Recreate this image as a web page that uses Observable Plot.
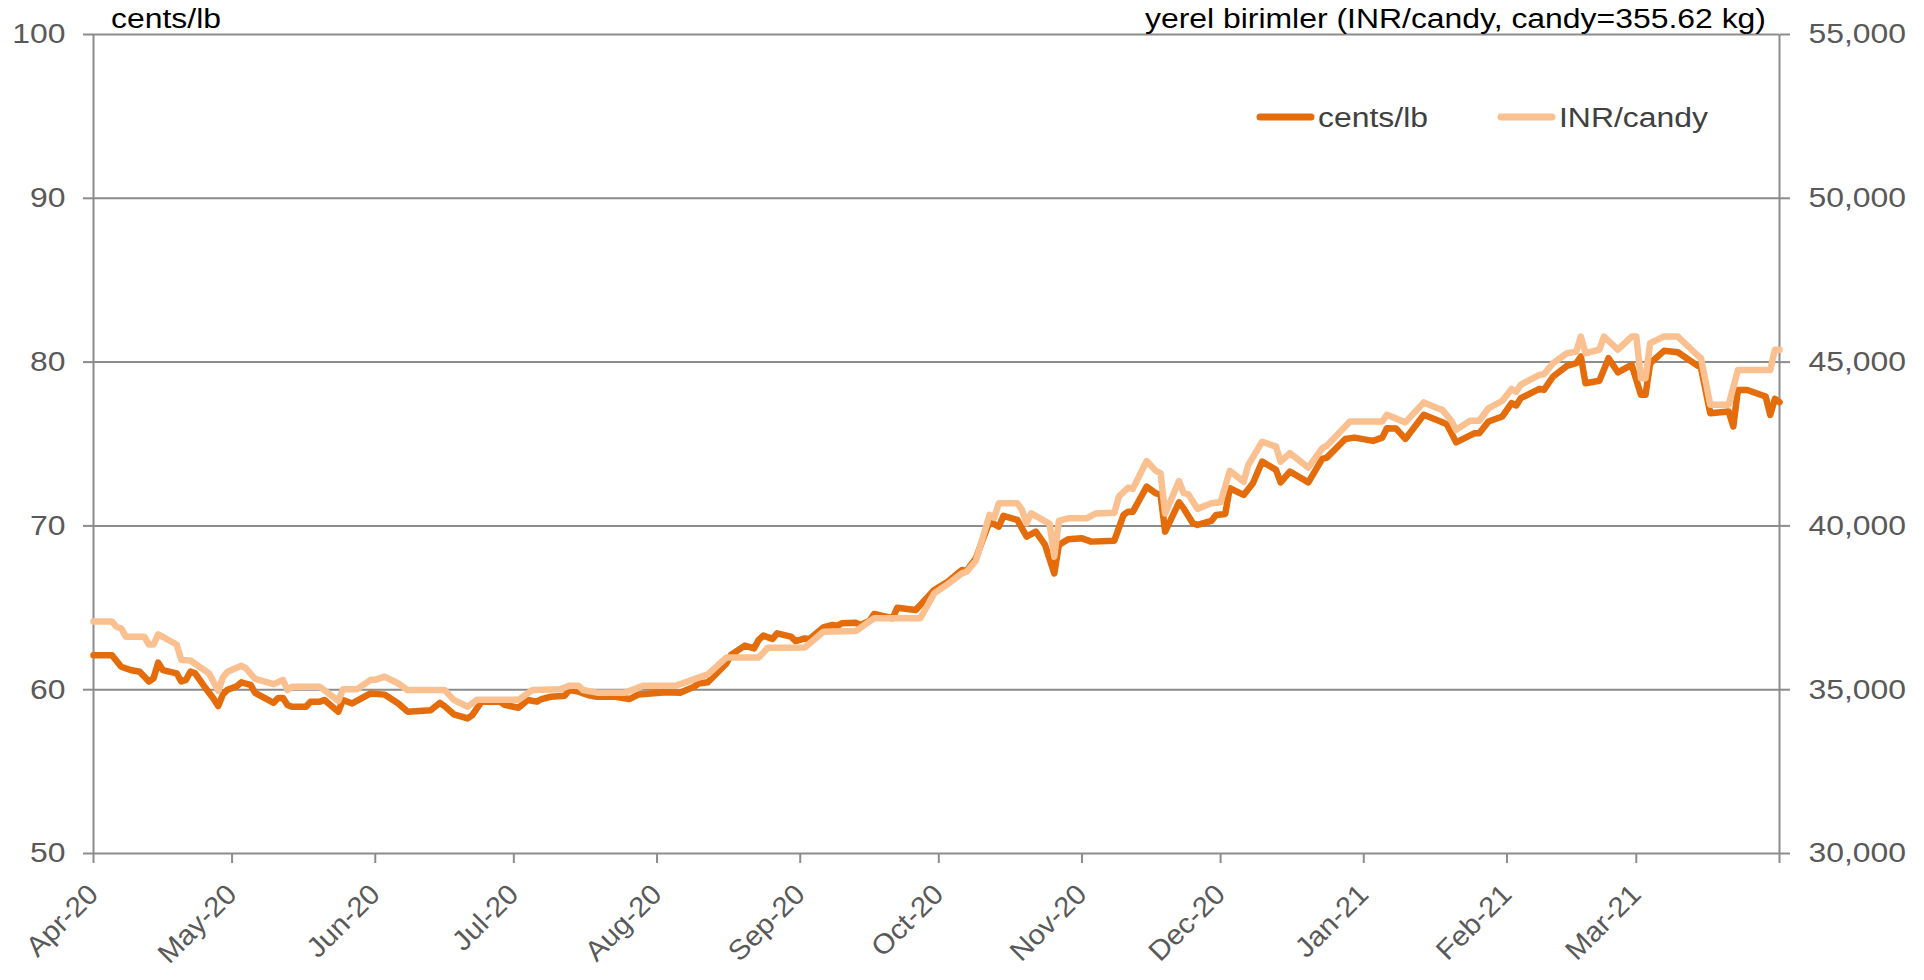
<!DOCTYPE html>
<html><head><meta charset="utf-8">
<script src="https://cdn.jsdelivr.net/npm/d3@7"></script>
<script src="https://cdn.jsdelivr.net/npm/@observablehq/plot@0.6"></script>
<style>
body{margin:0;background:#fff;font-family:"Liberation Sans",Arial,sans-serif;}
#wrap{position:relative;width:1924px;height:980px;overflow:hidden;}
#wrap svg{display:block;}
#overlay{position:absolute;left:0;top:0;}
</style></head><body><div id="wrap"></div>
<script>
// ---- data ----
const centsDates = ["2020-04-01","2020-04-05","2020-04-07","2020-04-09","2020-04-11","2020-04-13","2020-04-14","2020-04-15","2020-04-16","2020-04-19","2020-04-20","2020-04-21","2020-04-22","2020-04-23","2020-04-25","2020-04-27","2020-04-28","2020-04-29","2020-04-30","2020-05-02","2020-05-03","2020-05-05","2020-05-06","2020-05-10","2020-05-11","2020-05-12","2020-05-13","2020-05-14","2020-05-17","2020-05-18","2020-05-20","2020-05-21","2020-05-24","2020-05-25","2020-05-27","2020-05-31","2020-06-03","2020-06-06","2020-06-08","2020-06-13","2020-06-15","2020-06-16","2020-06-18","2020-06-21","2020-06-22","2020-06-24","2020-06-28","2020-06-29","2020-07-02","2020-07-04","2020-07-06","2020-07-07","2020-07-09","2020-07-12","2020-07-13","2020-07-15","2020-07-17","2020-07-19","2020-07-23","2020-07-26","2020-07-28","2020-08-03","2020-08-06","2020-08-09","2020-08-10","2020-08-12","2020-08-16","2020-08-17","2020-08-20","2020-08-22","2020-08-23","2020-08-24","2020-08-26","2020-08-27","2020-08-30","2020-08-31","2020-09-02","2020-09-03","2020-09-06","2020-09-08","2020-09-09","2020-09-10","2020-09-13","2020-09-14","2020-09-16","2020-09-17","2020-09-21","2020-09-22","2020-09-26","2020-09-30","2020-10-03","2020-10-06","2020-10-07","2020-10-09","2020-10-12","2020-10-14","2020-10-15","2020-10-18","2020-10-20","2020-10-22","2020-10-24","2020-10-26","2020-10-27","2020-10-29","2020-11-01","2020-11-03","2020-11-08","2020-11-10","2020-11-11","2020-11-12","2020-11-15","2020-11-17","2020-11-18","2020-11-19","2020-11-22","2020-11-23","2020-11-25","2020-11-26","2020-11-29","2020-11-30","2020-12-02","2020-12-03","2020-12-06","2020-12-08","2020-12-10","2020-12-13","2020-12-14","2020-12-16","2020-12-20","2020-12-23","2020-12-24","2020-12-28","2020-12-30","2021-01-03","2021-01-05","2021-01-06","2021-01-08","2021-01-10","2021-01-14","2021-01-18","2021-01-19","2021-01-21","2021-01-25","2021-01-26","2021-01-28","2021-01-31","2021-02-02","2021-02-03","2021-02-04","2021-02-08","2021-02-09","2021-02-11","2021-02-14","2021-02-16","2021-02-17","2021-02-18","2021-02-21","2021-02-23","2021-02-25","2021-02-28","2021-03-02","2021-03-03","2021-03-04","2021-03-07","2021-03-10","2021-03-14","2021-03-15","2021-03-17","2021-03-21","2021-03-22","2021-03-23","2021-03-25","2021-03-29","2021-03-30","2021-03-31","2021-04-01"];
const centsValues = [62.1,62.1,61.4,61.2,61.1,60.5,60.7,61.65,61.2,61.0,60.5,60.6,61.1,61.0,60.2,59.45,59.0,59.7,60.0,60.2,60.45,60.3,59.8,59.2,59.5,59.5,59.07,58.96,58.96,59.27,59.27,59.37,58.66,59.37,59.16,59.77,59.7,59.16,58.66,58.75,59.2,59.0,58.5,58.25,58.45,59.27,59.27,59.07,58.9,59.37,59.27,59.43,59.57,59.63,59.98,59.88,59.68,59.57,59.57,59.43,59.71,59.84,59.82,60.18,60.38,60.45,61.6,62.12,62.69,62.52,63.04,63.3,63.1,63.44,63.24,62.97,63.13,63.1,63.8,63.95,63.9,64.05,64.09,63.95,64.2,64.62,64.36,65.0,64.87,66.09,66.6,67.31,67.25,68.02,70.26,69.96,70.61,70.37,69.35,69.65,68.84,67.1,68.84,69.18,69.24,69.04,69.1,70.67,70.87,70.86,72.4,71.99,71.89,69.65,71.44,71.07,70.16,70.06,70.3,70.67,70.73,72.3,71.89,72.6,73.93,73.42,72.66,73.32,72.66,74.09,74.17,75.31,75.39,75.19,75.39,75.96,75.94,75.31,76.78,76.33,76.2,75.1,75.66,75.66,76.37,76.68,77.49,77.35,77.8,78.37,78.3,79.12,79.77,79.93,80.34,78.71,78.86,80.24,79.38,79.83,78.0,78.0,79.93,80.69,80.6,79.83,79.67,76.88,76.98,76.07,78.3,78.3,77.9,76.78,77.76,77.55];

const inrDates = ["2020-04-01","2020-04-05","2020-04-06","2020-04-07","2020-04-08","2020-04-12","2020-04-13","2020-04-14","2020-04-15","2020-04-19","2020-04-20","2020-04-22","2020-04-26","2020-04-28","2020-04-29","2020-04-30","2020-05-03","2020-05-04","2020-05-06","2020-05-10","2020-05-12","2020-05-13","2020-05-14","2020-05-20","2020-05-24","2020-05-25","2020-05-28","2020-05-31","2020-06-01","2020-06-03","2020-06-06","2020-06-08","2020-06-16","2020-06-18","2020-06-21","2020-06-23","2020-07-02","2020-07-05","2020-07-11","2020-07-13","2020-07-15","2020-07-16","2020-07-19","2020-07-25","2020-07-29","2020-08-05","2020-08-10","2020-08-12","2020-08-16","2020-08-23","2020-08-25","2020-08-28","2020-09-02","2020-09-06","2020-09-13","2020-09-17","2020-09-27","2020-09-30","2020-10-03","2020-10-06","2020-10-07","2020-10-09","2020-10-12","2020-10-13","2020-10-14","2020-10-18","2020-10-19","2020-10-20","2020-10-21","2020-10-25","2020-10-26","2020-10-27","2020-10-29","2020-11-02","2020-11-04","2020-11-08","2020-11-09","2020-11-11","2020-11-12","2020-11-15","2020-11-17","2020-11-18","2020-11-19","2020-11-22","2020-11-23","2020-11-24","2020-11-26","2020-11-29","2020-12-01","2020-12-03","2020-12-06","2020-12-07","2020-12-10","2020-12-13","2020-12-14","2020-12-16","2020-12-20","2020-12-23","2020-12-24","2020-12-29","2021-01-05","2021-01-06","2021-01-10","2021-01-14","2021-01-17","2021-01-18","2021-01-20","2021-01-21","2021-01-24","2021-01-26","2021-01-28","2021-01-31","2021-02-02","2021-02-03","2021-02-04","2021-02-08","2021-02-09","2021-02-11","2021-02-14","2021-02-16","2021-02-17","2021-02-18","2021-02-21","2021-02-22","2021-02-25","2021-02-28","2021-03-01","2021-03-02","2021-03-03","2021-03-04","2021-03-07","2021-03-10","2021-03-14","2021-03-15","2021-03-17","2021-03-21","2021-03-23","2021-03-30","2021-03-31","2021-04-01"];
const inrValues = [37080,37080,36920,36870,36620,36620,36380,36380,36690,36380,35910,35890,35500,34970,35370,35550,35730,35650,35330,35170,35300,34990,35090,35090,34660,35010,35010,35300,35300,35400,35190,34990,34990,34690,34480,34690,34690,34990,35010,35120,35120,34990,34910,34910,35120,35120,35370,35470,35980,35980,36280,36280,36290,36770,36790,37180,37180,37940,38230,38550,38600,38930,40340,40250,40690,40690,40490,40080,40380,40060,39060,40150,40230,40230,40380,40400,40900,41170,41130,41980,41680,41610,40380,41370,41000,40970,40520,40690,40720,41680,41350,41860,42570,42420,41960,42220,41780,42370,42450,43190,43190,43390,43160,43770,43590,43540,43200,42930,43210,43210,43590,43820,44180,44100,44310,44610,44630,44970,45270,45320,45780,45270,45380,45780,45380,45780,45780,44510,44510,45580,45780,45780,45240,45120,43700,43700,44760,44760,45380,45380];

const leftTicks = [50, 60, 70, 80, 90, 100];
const rightTicks = [30000, 35000, 40000, 45000, 50000, 55000];
const monthTicks = ["2020-04-01","2020-05-01","2020-06-01","2020-07-01","2020-08-01","2020-09-01","2020-10-01","2020-11-01","2020-12-01","2021-01-01","2021-02-01","2021-03-01"];
const xRange = ["2020-04-01", "2021-04-01"];
const seriesNames = ["cents/lb", "INR/candy"];
const leftTitle = "cents/lb";
const rightTitle = "yerel birimler (INR/candy, candy=355.62 kg)";

// ---- styling ----
const darkColor = "#E46C0A";
const lightColor = "#FAC090";
const gridColor = "#8C8C8C";
const labelColor = "#595959";
const FS = 28;
const STRETCH = 1.14;
const ROT_STRETCH = 1.05;

const toLeft = v => 50 + (v - 30000) / 500;
const toRight = v => 30000 + (v - 50) * 500;

const cents = centsDates.map((d, i) => ({date: new Date(d), value: centsValues[i]}));
const inr = inrDates.map((d, i) => ({date: new Date(d), value: inrValues[i]}));
const xDomain = xRange.map(d => new Date(d));

const chart = Plot.plot({
  width: 1924, height: 980,
  marginLeft: 93, marginRight: 145, marginTop: 34, marginBottom: 127,
  style: {fontFamily: "'Liberation Sans', Arial, sans-serif", background: "#fff", overflow: "visible"},
  x: {type: "utc", domain: xDomain},
  y: {domain: [50, 100]},
  marks: [
    Plot.gridY(leftTicks, {stroke: gridColor, strokeOpacity: 1, strokeWidth: 2}),
    Plot.ruleX(xDomain, {stroke: gridColor, strokeWidth: 2}),
    Plot.axisY(leftTicks, {anchor: "left", tickSize: 10, tickPadding: 18, fontSize: FS, fill: labelColor, stroke: gridColor, strokeWidth: 2, label: null}),
    Plot.axisY(rightTicks.map(toLeft), {anchor: "right", tickSize: 10, tickPadding: 19, fontSize: FS, fill: labelColor, stroke: gridColor, strokeWidth: 2, label: null,
      tickFormat: d => d3.format(",")(Math.round(toRight(d)))}),
    Plot.axisX(monthTicks.map(d => new Date(d)), {anchor: "bottom", tickSize: 10, tickPadding: 26, tickRotate: -45, fontSize: FS, fill: labelColor, stroke: gridColor, strokeWidth: 2, label: null, tickFormat: "%b-%y"}),
    Plot.axisX([xDomain[1]], {anchor: "bottom", tickSize: 10, stroke: gridColor, strokeWidth: 2, label: null, tickFormat: () => ""}),
    Plot.line(cents, {x: "date", y: "value", stroke: darkColor, strokeWidth: 6.5, strokeLinejoin: "round", strokeLinecap: "round"}),
    Plot.line(inr, {x: "date", y: d => toLeft(d.value), stroke: lightColor, strokeWidth: 6.5, strokeLinejoin: "round", strokeLinecap: "round"})
  ]
});

// widen the glyphs horizontally, as in the reference
function stretchText(t) {
  const tr = t.getAttribute("transform");
  if (tr && tr.includes("rotate")) {
    t.setAttribute("transform", tr + ` scale(${ROT_STRETCH},1)`);
  } else {
    const x = +(t.getAttribute("x") || 0);
    t.setAttribute("transform", (tr ? tr + " " : "") + `translate(${x * (1 - STRETCH)},0) scale(${STRETCH},1)`);
  }
}
chart.querySelectorAll("text").forEach(stretchText);

const wrap = document.getElementById("wrap");
wrap.appendChild(chart);

// titles and legend overlay
const ns = "http://www.w3.org/2000/svg";
const ov = document.createElementNS(ns, "svg");
ov.setAttribute("id", "overlay");
ov.setAttribute("width", 1924);
ov.setAttribute("height", 980);
ov.style.fontFamily = "'Liberation Sans', Arial, sans-serif";
function addText(x, y, str, anchor, fill) {
  const t = document.createElementNS(ns, "text");
  t.setAttribute("x", x); t.setAttribute("y", y);
  t.setAttribute("text-anchor", anchor);
  t.setAttribute("font-size", FS);
  t.setAttribute("fill", fill);
  t.textContent = str;
  ov.appendChild(t);
  stretchText(t);
}
function addLine(x1, x2, y, color) {
  const l = document.createElementNS(ns, "line");
  l.setAttribute("x1", x1); l.setAttribute("x2", x2);
  l.setAttribute("y1", y); l.setAttribute("y2", y);
  l.setAttribute("stroke", color); l.setAttribute("stroke-width", 7);
  l.setAttribute("stroke-linecap", "round");
  ov.appendChild(l);
}
addText(111, 28, leftTitle, "start", "#000");
addText(1766, 28, rightTitle, "end", "#000");
addLine(1260, 1311, 117, darkColor);
addText(1318, 127, seriesNames[0], "start", "#404040");
addLine(1501, 1552, 117, lightColor);
addText(1559, 127, seriesNames[1], "start", "#404040");
wrap.appendChild(ov);
</script>
</body></html>
